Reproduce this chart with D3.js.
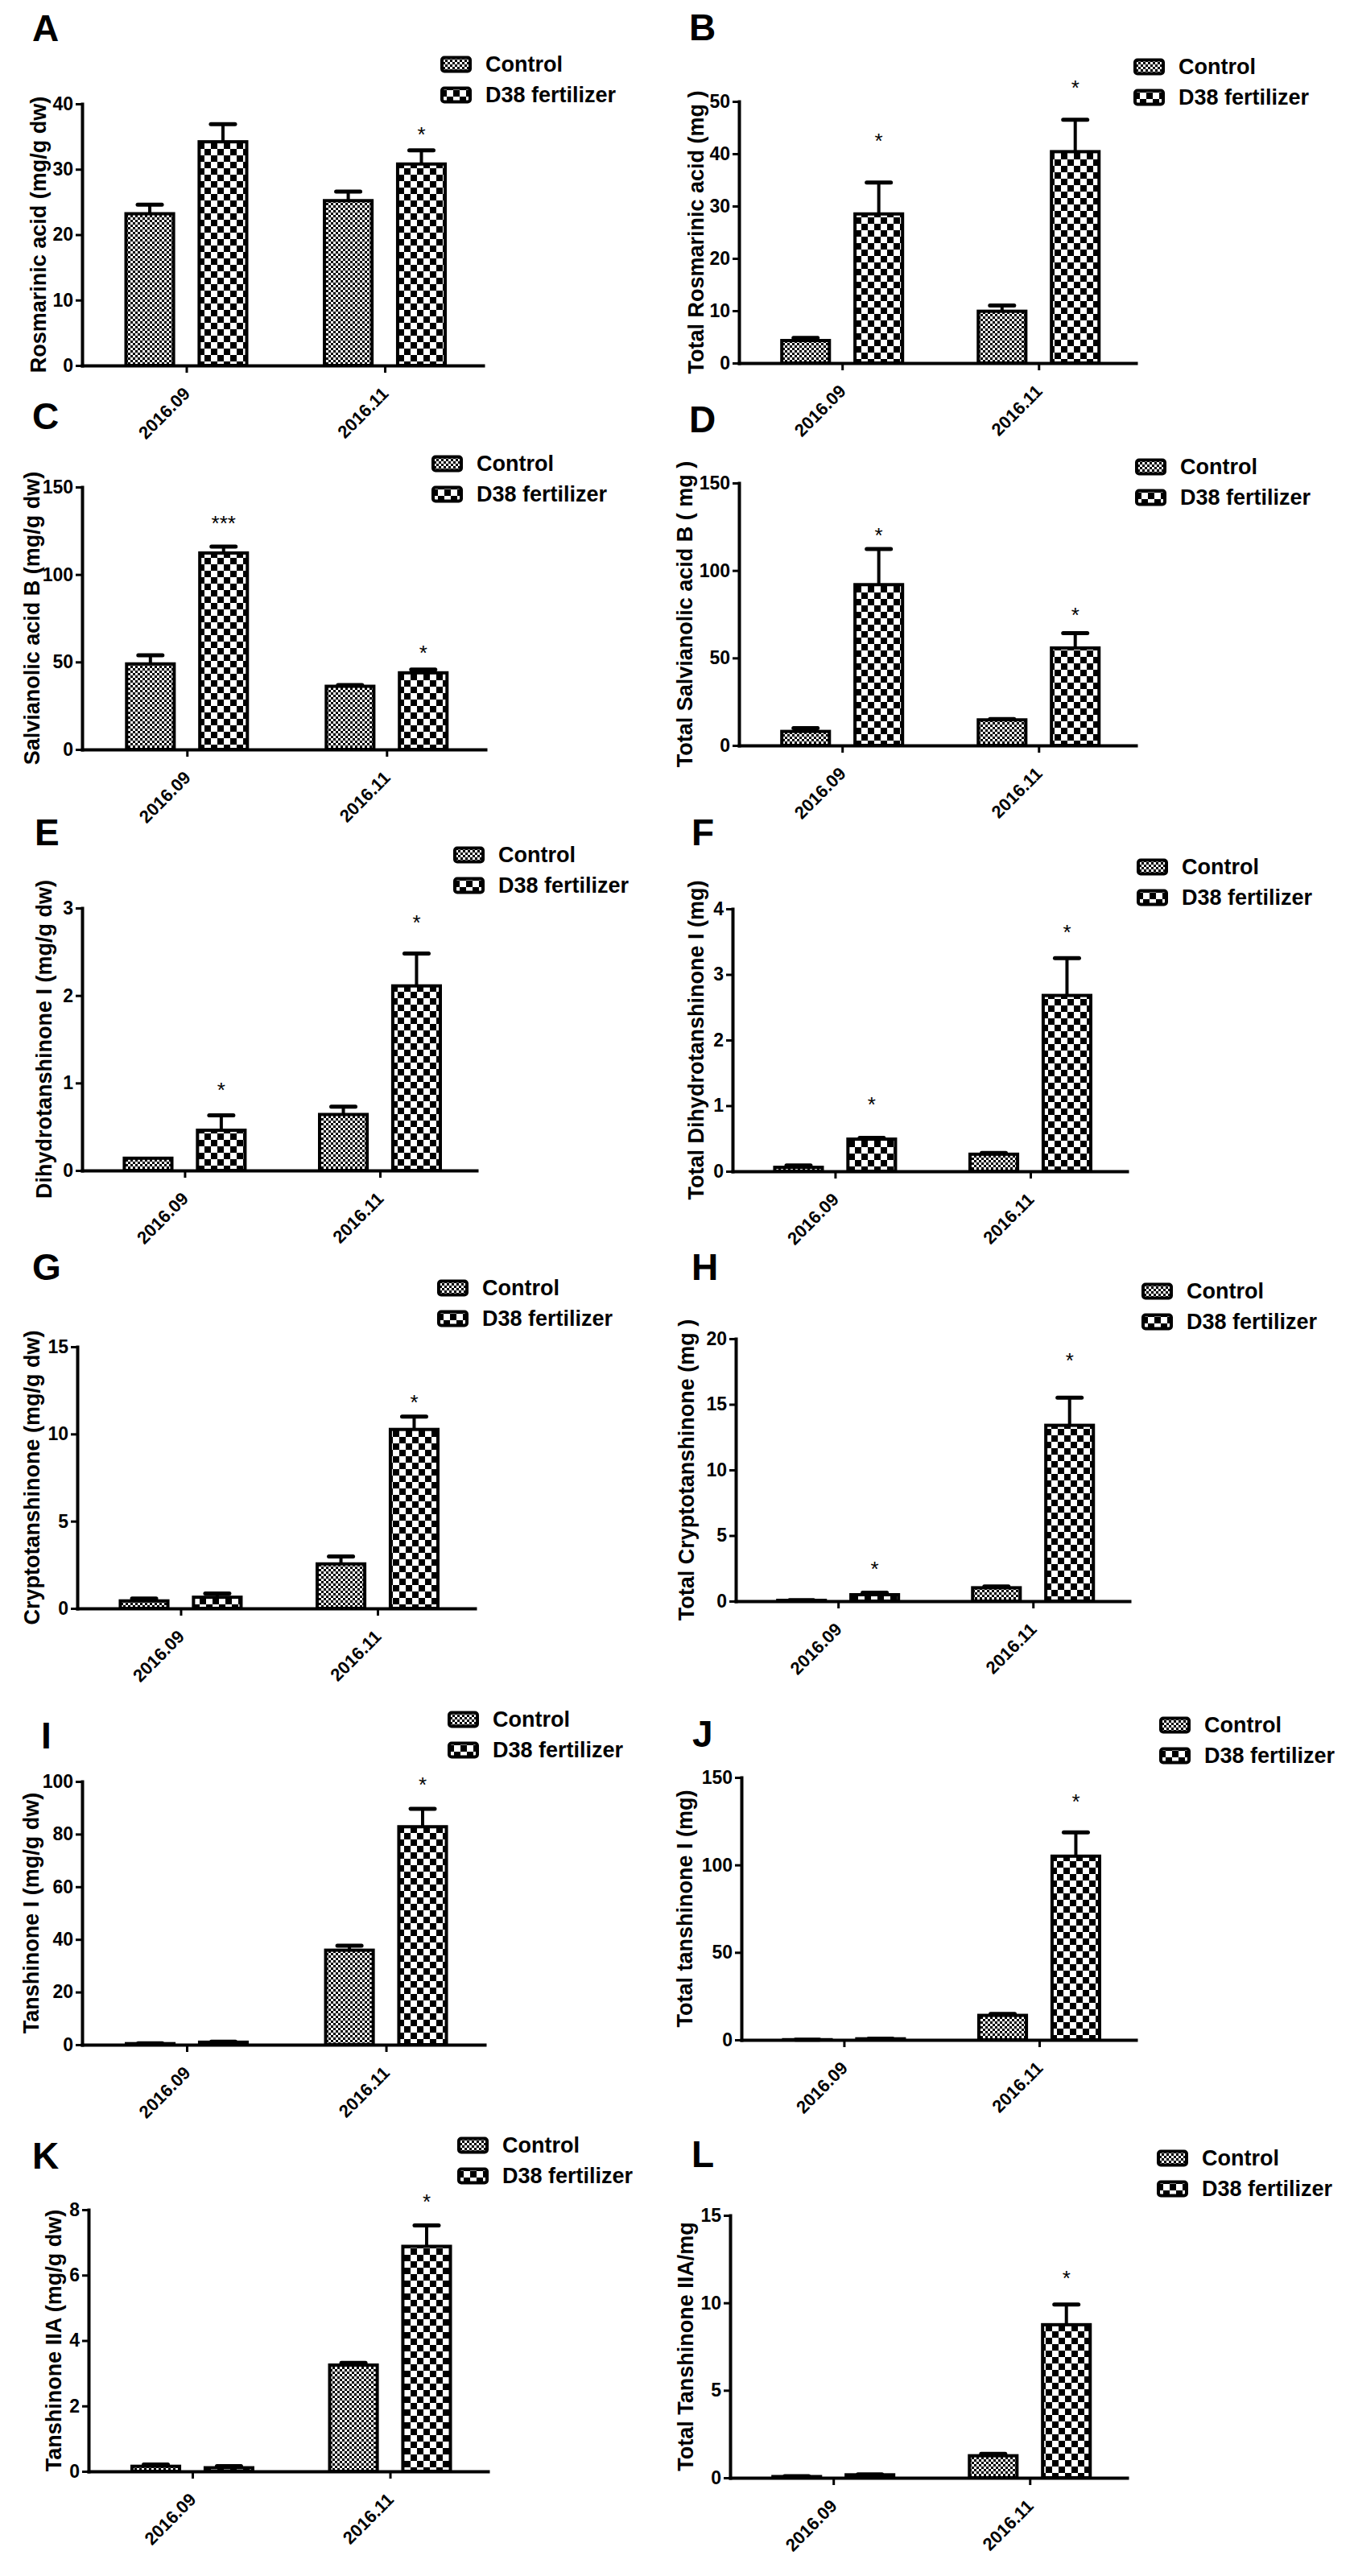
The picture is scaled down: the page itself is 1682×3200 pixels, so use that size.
<!DOCTYPE html>
<html>
<head>
<meta charset="utf-8">
<script src="https://cdn.jsdelivr.net/npm/d3@7"></script>
<style>
  body { margin: 0; background: #fff; }
  text { font-family: "Liberation Sans", Arial, sans-serif; }
</style>
</head>
<body>
<svg id="fig" width="1682" height="3200"></svg>
<script>
const months = ['2016.09', '2016.11'];
const groups = ['Control', 'D38 fertilizer'];

// each values/errors array: rows = [Control, D38 fertilizer], columns = months
// stars sit over the D38 bars, starY is where the mark is drawn (axis units)
const ticksA = [0, 10, 20, 30, 40];
const valuesA = [[23.2, 25.2], [34.2, 30.8]];
const errorsA = [[1.4, 1.4], [2.7, 2.1]];
const starsA = ['', '*'];
const starYA = [null, 36];

const ticksB = [0, 10, 20, 30, 40, 50];
const valuesB = [[4.3, 9.9], [28.5, 40.4]];
const errorsB = [[0.5, 1.1], [6.0, 6.1]];
const starsB = ['*', '*'];
const starYB = [43.3, 53.5];

const ticksC = [0, 50, 100, 150];
const valuesC = [[48.9, 36.1], [112.3, 43.8]];
const errorsC = [[4.9, 0.7], [3.6, 1.9]];
const starsC = ['***', '*'];
const starYC = [132, 58];

const ticksD = [0, 50, 100, 150];
const valuesD = [[8.0, 14.6], [91.9, 55.7]];
const errorsD = [[1.9, 0.5], [20.4, 8.5]];
const starsD = ['*', '*'];
const starYD = [122.6, 77.2];

const ticksE = [0, 1, 2, 3];
const valuesE = [[0.14, 0.64], [0.46, 2.11]];
const errorsE = [[0, 0.09], [0.17, 0.37]];
const starsE = ['*', '*'];
const starYE = [0.97, 2.89];

const ticksF = [0, 1, 2, 3, 4];
const valuesF = [[0.06, 0.26], [0.49, 2.68]];
const errorsF = [[0.03, 0.02], [0.02, 0.57]];
const starsF = ['*', '*'];
const starYF = [1.09, 3.72];

const ticksG = [0, 5, 10, 15];
const valuesG = [[0.43, 2.55], [0.64, 10.26]];
const errorsG = [[0.13, 0.43], [0.21, 0.74]];
const starsG = ['', '*'];
const starYG = [null, 12.1];

const ticksH = [0, 5, 10, 15, 20];
const valuesH = [[0.06, 1.02], [0.49, 13.4]];
const errorsH = [[0.02, 0.1], [0.15, 2.1]];
const starsH = ['*', '*'];
const starYH = [2.8, 18.7];

const ticksI = [0, 20, 40, 60, 80, 100];
const valuesI = [[0.4, 35.9], [0.95, 82.8]];
const errorsI = [[0.1, 1.7], [0.2, 6.8]];
const starsI = ['', '*'];
const starYI = [null, 100.7];

const ticksJ = [0, 50, 100, 150];
const valuesJ = [[0.1, 14.0], [0.6, 105]];
const errorsJ = [[0.05, 0.8], [0.1, 13.6]];
const starsJ = ['', '*'];
const starYJ = [null, 139];

const ticksK = [0, 2, 4, 6, 8];
const valuesK = [[0.155, 3.25], [0.11, 6.88]];
const errorsK = [[0.055, 0.07], [0.05, 0.64]];
const starsK = ['', '*'];
const starYK = [null, 8.4];

const ticksL = [0, 5, 10, 15];
const valuesL = [[0.07, 1.26], [0.17, 8.75]];
const errorsL = [[0.02, 0.11], [0.03, 1.15]];
const starsL = ['', '*'];
const starYL = [null, 11.7];

const panels = [
  { letter: 'A', title: 'Rosmarinic acid (mg/g dw)', ticks: ticksA, values: valuesA, errors: errorsA, stars: starsA, starY: starYA,
    box: { x0: 102, w: 498, top: 129, zero: 454, legX: 547, legY: 80, lx: 40, ly: 51, titleDx: -54 } },
  { letter: 'B', title: 'Total Rosmarinic acid (mg )', ticks: ticksB, values: valuesB, errors: errorsB, stars: starsB, starY: starYB,
    box: { x0: 918, w: 493, top: 126, zero: 451, legX: 1408, legY: 83, lx: 856, ly: 50, titleDx: -53 } },
  { letter: 'C', title: 'Salvianolic acid B (mg/g dw)', ticks: ticksC, values: valuesC, errors: errorsC, stars: starsC, starY: starYC,
    box: { x0: 102, w: 501, top: 605, zero: 931, legX: 536, legY: 576, lx: 40, ly: 533, titleDx: -62 } },
  { letter: 'D', title: 'Total Salvianolic acid B  ( mg )', ticks: ticksD, values: valuesD, errors: errorsD, stars: starsD, starY: starYD,
    box: { x0: 918, w: 493, top: 600, zero: 926, legX: 1410, legY: 580, lx: 856, ly: 537, titleDx: -67 } },
  { letter: 'E', title: 'Dihydrotanshinone I (mg/g dw)', ticks: ticksE, values: valuesE, errors: errorsE, stars: starsE, starY: starYE,
    box: { x0: 102, w: 490, top: 1128, zero: 1454, legX: 563, legY: 1062, lx: 43, ly: 1050, titleDx: -47 } },
  { letter: 'F', title: 'Total Dihydrotanshinone I (mg)', ticks: ticksF, values: valuesF, errors: errorsF, stars: starsF, starY: starYF,
    box: { x0: 910, w: 490, top: 1129, zero: 1455, legX: 1412, legY: 1077, lx: 859, ly: 1050, titleDx: -45 } },
  { letter: 'G', title: 'Cryptotanshinone (mg/g dw)', ticks: ticksG, values: valuesG, errors: errorsG, stars: starsG, starY: starYG,
    box: { x0: 96, w: 494, top: 1673, zero: 1998, legX: 543, legY: 1600, lx: 40, ly: 1590, titleDx: -56 } },
  { letter: 'H', title: 'Total Cryptotanshinone (mg )', ticks: ticksH, values: valuesH, errors: errorsH, stars: starsH, starY: starYH,
    box: { x0: 914, w: 489, top: 1663, zero: 1989, legX: 1418, legY: 1604, lx: 859, ly: 1590, titleDx: -61 } },
  { letter: 'I', title: 'Tanshinone I (mg/g dw)', ticks: ticksI, values: valuesI, errors: errorsI, stars: starsI, starY: starYI,
    box: { x0: 102, w: 500, top: 2213, zero: 2540, legX: 556, legY: 2136, lx: 51, ly: 2172, titleDx: -63 } },
  { letter: 'J', title: 'Total tanshinone I (mg)', ticks: ticksJ, values: valuesJ, errors: errorsJ, stars: starsJ, starY: starYJ,
    box: { x0: 921, w: 490, top: 2208, zero: 2534, legX: 1440, legY: 2143, lx: 860, ly: 2170, titleDx: -70 } },
  { letter: 'K', title: 'Tanshinone IIA (mg/g dw)', ticks: ticksK, values: valuesK, errors: errorsK, stars: starsK, starY: starYK,
    box: { x0: 110, w: 496, top: 2745, zero: 3070, legX: 568, legY: 2665, lx: 40, ly: 2694, titleDx: -43 } },
  { letter: 'L', title: 'Total Tanshinone IIA/mg', ticks: ticksL, values: valuesL, errors: errorsL, stars: starsL, starY: starYL,
    box: { x0: 907, w: 493, top: 2752, zero: 3078, legX: 1437, legY: 2681, lx: 859, ly: 2692, titleDx: -55 } }
];

const svg = d3.select('#fig');
svg.append('rect').attr('width', 1682).attr('height', 3200).attr('fill', '#fff');

const defs = svg.append('defs');
function checker(id, cell) {
  const p = defs.append('pattern')
    .attr('id', id)
    .attr('patternUnits', 'userSpaceOnUse')
    .attr('width', cell * 2)
    .attr('height', cell * 2);
  p.append('rect').attr('width', cell * 2).attr('height', cell * 2).attr('fill', '#fff');
  p.append('rect').attr('width', cell).attr('height', cell).attr('fill', '#000');
  p.append('rect').attr('x', cell).attr('y', cell).attr('width', cell).attr('height', cell).attr('fill', '#000');
}
checker('fineCheck', 3);
checker('coarseCheck', 8);
const fills = ['url(#fineCheck)', 'url(#coarseCheck)'];

function styleAxis(sel, size) {
  sel.attr('font-family', '"Liberation Sans", Arial, sans-serif')
    .attr('font-size', size)
    .attr('font-weight', 'bold');
  sel.select('.domain').attr('stroke-width', 4).attr('stroke-linecap', 'square');
  sel.selectAll('.tick line').attr('stroke-width', 3);
  sel.selectAll('.tick text').attr('fill', '#000');
}

function drawPanel(p) {
  const b = p.box;
  const h = b.zero - b.top;
  const g = svg.append('g').attr('transform', `translate(${b.x0},${b.top})`);

  const y = d3.scaleLinear().domain([0, d3.max(p.ticks)]).range([h, 0]);
  const x = d3.scalePoint().domain(months).range([0, b.w]).padding(0.51).align(0.515);
  const xs = d3.scaleBand().domain(groups).range([-75, 75]).paddingInner(0.35);

  // bars
  groups.forEach((grp, i) => {
    g.selectAll(`.bar-${i}`)
      .data(months.map((m, j) => ({ m, v: p.values[i][j], e: p.errors[i][j] })))
      .enter().append('rect')
      .attr('class', `bar-${i}`)
      .attr('x', d => x(d.m) + xs(grp))
      .attr('width', xs.bandwidth())
      .attr('y', d => y(d.v))
      .attr('height', d => h - y(d.v))
      .attr('fill', fills[i])
      .attr('stroke', '#000')
      .attr('stroke-width', 4);

    // upper error bars
    const eb = g.selectAll(`.err-${i}`)
      .data(months.map((m, j) => ({ m, v: p.values[i][j], e: p.errors[i][j] })).filter(d => d.e > 0))
      .enter().append('g')
      .attr('class', `err-${i}`)
      .attr('transform', d => `translate(${x(d.m) + xs(grp) + xs.bandwidth() / 2},0)`);
    eb.append('line')
      .attr('y1', d => y(d.v))
      .attr('y2', d => y(d.v + d.e))
      .attr('stroke', '#000')
      .attr('stroke-width', 4);
    eb.append('line')
      .attr('x1', -15).attr('x2', 15)
      .attr('y1', d => y(d.v + d.e))
      .attr('y2', d => y(d.v + d.e))
      .attr('stroke', '#000')
      .attr('stroke-width', 5)
      .attr('stroke-linecap', 'round');
  });

  // significance marks over D38 bars
  g.selectAll('.star')
    .data(months.map((m, j) => ({ m, s: p.stars[j], at: p.starY[j] })).filter(d => d.s))
    .enter().append('text')
    .attr('class', 'star')
    .attr('x', d => x(d.m) + xs(groups[1]) + xs.bandwidth() / 2)
    .attr('y', d => y(d.at))
    .attr('dy', '0.57em')
    .attr('text-anchor', 'middle')
    .attr('font-size', 26)
    .text(d => d.s);

  // axes
  const yAxis = g.append('g')
    .call(d3.axisLeft(y).tickValues(p.ticks).tickFormat(d3.format('d'))
      .tickSize(8).tickSizeOuter(0).tickPadding(3));
  styleAxis(yAxis, 23);

  const xAxis = g.append('g')
    .attr('transform', `translate(0,${h})`)
    .call(d3.axisBottom(x).tickSize(9).tickSizeOuter(0));
  styleAxis(xAxis, 22);
  xAxis.selectAll('.tick text')
    .attr('x', 0).attr('y', 0).attr('dy', '0.35em')
    .attr('text-anchor', 'end')
    .attr('transform', 'translate(0,31) rotate(-45)');

  // y title
  svg.append('text')
    .attr('transform', `translate(${b.x0 + b.titleDx},${(b.top + b.zero) / 2}) rotate(-90)`)
    .attr('text-anchor', 'middle')
    .attr('dominant-baseline', 'central')
    .attr('font-size', 27)
    .attr('font-weight', 'bold')
    .text(p.title);

  // legend
  const leg = svg.append('g').attr('transform', `translate(${b.legX},${b.legY})`);
  groups.forEach((grp, i) => {
    leg.append('rect')
      .attr('x', 2).attr('y', i * 38 - 8.5)
      .attr('width', 35).attr('height', 17)
      .attr('rx', 3)
      .attr('fill', fills[i])
      .attr('stroke', '#000')
      .attr('stroke-width', 4);
    leg.append('text')
      .attr('x', 56).attr('y', i * 38)
      .attr('dominant-baseline', 'central')
      .attr('font-size', 27)
      .attr('font-weight', 'bold')
      .text(grp);
  });

  // panel letter
  svg.append('text')
    .attr('x', b.lx).attr('y', b.ly)
    .attr('font-size', 46)
    .attr('font-weight', 'bold')
    .text(p.letter);
}

panels.forEach(drawPanel);
</script>
</body>
</html>
